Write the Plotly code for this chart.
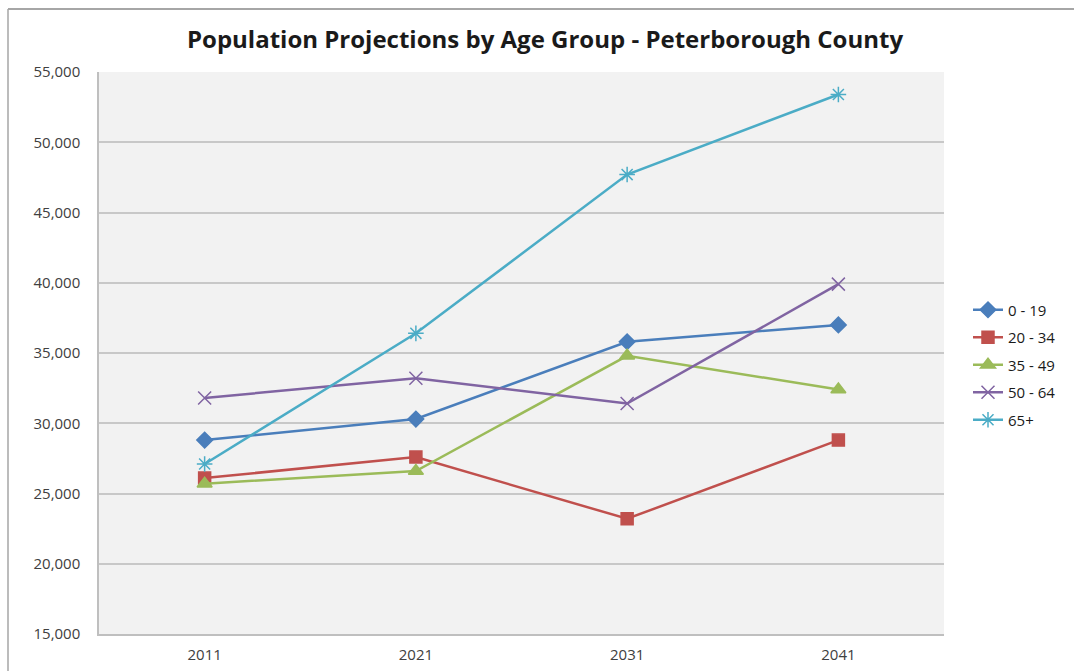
import plotly.graph_objects as go

years = ["2011", "2021", "2031", "2041"]
age_0_19 = [28800, 30300, 35800, 37000]
age_20_34 = [26100, 27600, 23200, 28800]
age_35_49 = [25700, 26600, 34800, 32400]
age_50_64 = [31800, 33200, 31400, 39900]
age_65p = [27100, 36400, 47700, 53400]

series_names = ["0 - 19", "20 - 34", "35 - 49", "50 - 64", "65+"]
series_values = [age_0_19, age_20_34, age_35_49, age_50_64, age_65p]
colors = ["#4A7EBB", "#C0504D", "#9BBB59", "#8064A2", "#4BACC6"]
symbols = ["diamond", "square", "triangle-up", "x-thin-open", "asterisk-open"]
sizes = [12, 12, 13, 13, 13]

FONT = "Open Sans"

fig = go.Figure()
for i, (name, vals) in enumerate(zip(series_names, series_values)):
    fig.add_trace(go.Scatter(
        x=years, y=vals, name=name, mode="lines+markers",
        legendgroup=name,
        line=dict(color=colors[i], width=2.5),
        marker=dict(symbol=symbols[i], size=sizes[i], color=colors[i],
                    line=dict(color=colors[i], width=1.5)),
    ))

L, R, T, B = 99, 130, 72, 37
W, H = 1074, 671
pw, ph = W - L - R, H - T - B
px = lambda x: (x - L) / pw
py = lambda y: (H - B - y) / ph

fig.update_layout(
    width=W, height=H,
    margin=dict(l=L, r=R, t=T, b=B),
    paper_bgcolor="white",
    plot_bgcolor="#F2F2F2",
    font=dict(family=FONT, color="#404040", size=15),
    title=dict(text="<b>Population Projections by Age Group - Peterborough County</b>",
               x=px(545), xanchor="center", xref="paper",
               y=1 - 40 / H, yanchor="middle",
               font=dict(family=FONT, size=24, color="#1a1a1a")),
    showlegend=True,
    legend=dict(x=px(968), xanchor="left", y=py(365), yanchor="middle",
                font=dict(family=FONT, size=15, color="#1a1a1a"),
                tracegroupgap=5, bgcolor="rgba(0,0,0,0)", itemwidth=30),
    xaxis=dict(type="category", range=[-0.5, 3.5], showgrid=False, showline=True,
               linecolor="#BFBFBF", linewidth=2, ticks="", ticklabelstandoff=6,
               automargin=False,
               tickfont=dict(family=FONT, size=15, color="#404040")),
    yaxis=dict(range=[15000, 55000], dtick=5000, tickformat=",",
               showgrid=True, gridcolor="#C8C8C8", gridwidth=1.5,
               showline=True, linecolor="#BFBFBF", linewidth=1.5,
               zeroline=False, ticks="", ticklabelstandoff=14,
               automargin=False,
               tickfont=dict(family=FONT, size=15, color="#404040")),
    shapes=[
        dict(type="line", xref="paper", yref="paper",
             x0=px(8), x1=px(W), y0=py(9), y1=py(9),
             line=dict(color="#A6A6A6", width=2)),
        dict(type="line", xref="paper", yref="paper",
             x0=px(8), x1=px(8), y0=py(9), y1=py(H + 5),
             line=dict(color="#A6A6A6", width=1.5)),
    ],
)

fig.write_html("out.html")
